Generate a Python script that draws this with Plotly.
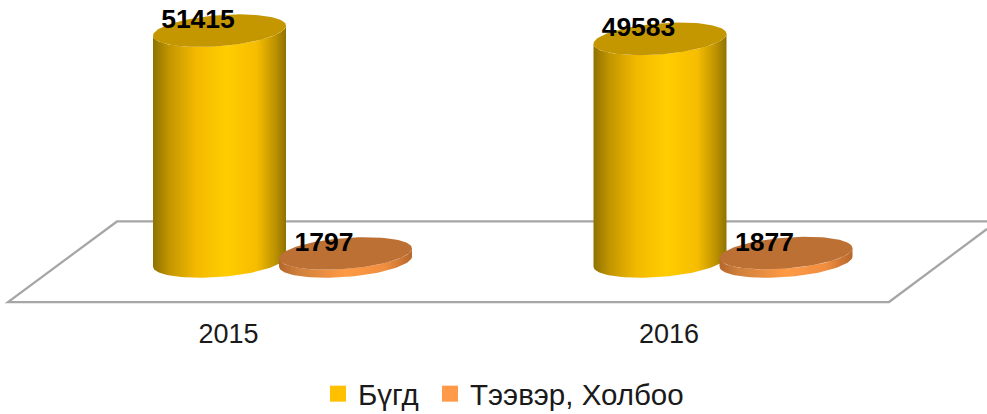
import numpy as np
import plotly.graph_objects as go

years = ["2015", "2016"]
bygd = [51415, 49583]
teever = [1797, 1877]
series_names = ["Бүгд", "Тээвэр, Холбоо"]

W, H, FLOOR_PX = 987, 420, 302
PX_PER_CAT = 440.5
X0_PX = 228.5
PX_PER_VAL = 0.00449
BASE_PX = 261.5
FONT = "Liberation Sans, Arial, sans-serif"

A, B, SHEAR = 66.5 / PX_PER_CAT, 15.5 / PX_PER_VAL, 5 / PX_PER_VAL
OFF_BIG, OFF_SMALL = -9 / PX_PER_CAT, 117 / PX_PER_CAT
LBL_DX, LBL_DY = -21.5 / PX_PER_CAT, 9 / PX_PER_VAL

GOLD = [[0, "#8f7200"], [0.12, "#c29500"], [0.32, "#f2b900"], [0.55, "#ffcd00"],
        [0.78, "#f6bd00"], [0.92, "#bd9200"], [1, "#8f7200"]]
ORANGE = [[0, "#b5672c"], [0.15, "#d0813c"], [0.5, "#ff9a45"], [0.8, "#f08e40"], [1, "#b5672c"]]
GOLD_TOP, ORANGE_TOP = "#c49600", "#bd7034"
GOLD_KEY, ORANGE_KEY = "#ffc000", "#ff9a4a"
GREY = "#a6a6a6"


def ellipse(cx, level, t):
    return cx + A * np.cos(t), level + SHEAR * np.cos(t) + B * np.sin(t)


def cylinder(cx, value, scale, top_color):
    # lower half of the base, then lower half of the top going back
    t = np.linspace(np.pi, 2 * np.pi, 60)
    xb, yb = ellipse(cx, 0, t)
    xt, yt = ellipse(cx, value, t[::-1])
    side = go.Scatter(
        x=np.r_[xb, xt], y=np.r_[yb, yt], mode="lines", line=dict(width=0), fill="toself",
        fillgradient=dict(type="horizontal", colorscale=scale),
        showlegend=False, hoverinfo="skip",
    )
    a = np.linspace(0, 2 * np.pi, 120)
    xc, yc = ellipse(cx, value, a)
    cap = go.Scatter(
        x=xc, y=yc, mode="lines", line=dict(width=0), fill="toself", fillcolor=top_color,
        showlegend=False, hoverinfo="skip",
    )
    return [side, cap]


fig = go.Figure()
for i in range(len(years)):
    fig.add_traces(cylinder(i + OFF_BIG, bygd[i], GOLD, GOLD_TOP))
    fig.add_traces(cylinder(i + OFF_SMALL, teever[i], ORANGE, ORANGE_TOP))

xs = [i + OFF_BIG + LBL_DX for i in range(len(years))] + [i + OFF_SMALL + LBL_DX for i in range(len(years))]
vals = bygd + teever
fig.add_trace(go.Scatter(
    x=xs, y=[v + LBL_DY for v in vals], text=[str(v) for v in vals], mode="text",
    textposition="middle center", textfont=dict(family=FONT, size=26.5, color="#000000", weight="bold"),
    showlegend=False, hoverinfo="skip",
))

for idx, (name, color) in enumerate(zip(series_names, [GOLD_KEY, ORANGE_KEY])):
    fig.add_trace(go.Scatter(
        x=[None], y=[None], mode="markers", name=name,
        marker=dict(symbol="square", size=16, color=color),
        legendwidth=67 if idx == 0 else None,
    ))


def px(x, y):
    return f"{x / W:.5f},{1 - y / FLOOR_PX:.5f}"


floor = "M " + " L ".join(px(*p) for p in [(987, 221.5), (117, 221.5), (8, 302), (889, 302), (987, 229)])

fig.update_layout(
    width=W, height=H, autosize=False,
    margin=dict(l=0, r=0, t=0, b=H - FLOOR_PX, pad=0),
    paper_bgcolor="#ffffff", plot_bgcolor="rgba(0,0,0,0)",
    font=dict(family=FONT, size=26, color="#1a1a1a"),
    hovermode=False,
    xaxis=dict(
        range=[-X0_PX / PX_PER_CAT, (W - X0_PX) / PX_PER_CAT],
        tickmode="array", tickvals=list(range(len(years))), ticktext=years,
        showgrid=False, zeroline=False, showline=False,
        ticks="outside", ticklen=8, tickcolor="rgba(0,0,0,0)",
        tickfont=dict(family=FONT, size=27, color="#1a1a1a"), fixedrange=True,
    ),
    yaxis=dict(
        range=[(BASE_PX - FLOOR_PX) / PX_PER_VAL, BASE_PX / PX_PER_VAL],
        visible=False, fixedrange=True,
    ),
    legend=dict(
        orientation="h", xref="container", yref="container", x=0.3222, y=0,
        xanchor="left", yanchor="bottom", font=dict(family=FONT, size=29.5, color="#1a1a1a"),
        bgcolor="rgba(0,0,0,0)",
    ),
    shapes=[dict(type="path", path=floor, xref="paper", yref="paper", layer="below",
                 line=dict(color=GREY, width=2.25))],
)
fig.write_html("out.html", config={"displayModeBar": False},
               post_script="document.body.style.margin='0';document.body.style.overflow='hidden';")
